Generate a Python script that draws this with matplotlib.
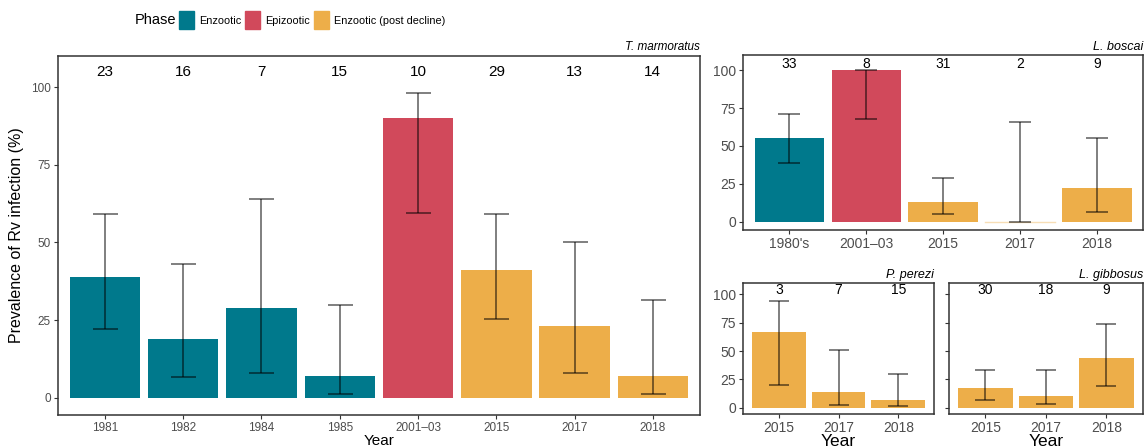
import numpy as np
import matplotlib.pyplot as plt
from matplotlib.patches import Patch

# colours for each phase
phase_colors = {'Enzootic': '#00798C', 'Epizootic': '#D1495B', 'Enzootic (post decline)': '#EDAE49'}

# T. marmoratus
tm_years = ['1981', '1982', '1984', '1985', '2001\u201303', '2015', '2017', '2018']
tm_prev = [39, 19, 29, 7, 90, 41, 23, 7]
tm_low = [22, 6.7, 8, 1.2, 59.5, 25.5, 8, 1.2]
tm_high = [59, 43, 64, 30, 98, 59, 50, 31.5]
tm_n = [23, 16, 7, 15, 10, 29, 13, 14]
tm_phase = ['Enzootic'] * 4 + ['Epizootic'] + ['Enzootic (post decline)'] * 3

# L. boscai
lb_years = ["1980's", '2001\u201303', '2015', '2017', '2018']
lb_prev = [55, 100, 13, 0, 22]
lb_low = [39, 67.5, 5, 0, 6]
lb_high = [71, 100, 29, 66, 55]
lb_n = [33, 8, 31, 2, 9]
lb_phase = ['Enzootic', 'Epizootic'] + ['Enzootic (post decline)'] * 3

# P. perezi
pp_years = ['2015', '2017', '2018']
pp_prev = [67, 14, 7]
pp_low = [20.5, 2.5, 1.5]
pp_high = [94, 51, 30]
pp_n = [3, 7, 15]
pp_phase = ['Enzootic (post decline)'] * 3

# L. gibbosus
lg_years = ['2015', '2017', '2018']
lg_prev = [17, 10.5, 44]
lg_low = [7, 3, 19]
lg_high = [33.5, 33, 73.5]
lg_n = [30, 18, 9]
lg_phase = ['Enzootic (post decline)'] * 3

plt.rcParams['font.family'] = ['Liberation Sans', 'DejaVu Sans']

fig = plt.figure(figsize=(11.44, 4.48), dpi=100)


def panel(ax, years, prev, low, high, n, phase, title, nsize, tsize, titlesize,
          ticklabels=True, count_y=105, cap=9):
    x = np.arange(len(years))
    cols = [phase_colors[p] for p in phase]
    ax.bar(x, prev, width=0.9, color=cols, zorder=2)
    # faint line for zero-height bars
    for xi, v, c in zip(x, prev, cols):
        if v == 0:
            ax.plot([xi - 0.45, xi + 0.45], [0, 0], color=c, lw=1, alpha=0.4, zorder=2)
    p = np.array(prev)
    ax.errorbar(x, p, yerr=[p - np.array(low), np.array(high) - p], fmt='none',
                ecolor='black', alpha=0.5, elinewidth=1.4, capsize=cap, capthick=1.4, zorder=3)
    for xi, ni in zip(x, n):
        ax.text(xi, count_y, str(ni), ha='center', va='center', fontsize=nsize, color='black')
    ax.set_xlim(-0.6, len(years) - 0.4)
    ax.set_ylim(-5.5, 110)
    ax.set_xticks(x)
    ax.set_xticklabels(years)
    ax.set_yticks([0, 25, 50, 75, 100])
    if not ticklabels:
        ax.set_yticklabels([])
    ax.tick_params(colors='#333333', labelcolor='#4d4d4d', labelsize=tsize, length=3, pad=2)
    for s in ax.spines.values():
        s.set_color('#333333')
        s.set_linewidth(1.1)
    ax.set_title(title, loc='right', fontsize=titlesize, style='italic', pad=4)


ax_main = fig.add_axes([0.0507, 0.074, 0.561, 0.801])
panel(ax_main, tm_years, tm_prev, tm_low, tm_high, tm_n, tm_phase, 'T. marmoratus', 11, 8.5, 8.5)
ax_main.set_ylabel('Prevalence of Rv infection (%)', fontsize=11.5, labelpad=5)
ax_main.set_xlabel('Year', fontsize=11, labelpad=0)

ax_lb = fig.add_axes([0.6495, 0.487, 0.3497, 0.39])
panel(ax_lb, lb_years, lb_prev, lb_low, lb_high, lb_n, lb_phase, 'L. boscai', 10, 10, 9,
      count_y=104, cap=8)

ax_pp = fig.add_axes([0.6495, 0.076, 0.167, 0.292])
panel(ax_pp, pp_years, pp_prev, pp_low, pp_high, pp_n, pp_phase, 'P. perezi', 10, 10, 9,
      count_y=104, cap=7)
ax_pp.set_xlabel('Year', fontsize=12.5, labelpad=-1)

ax_lg = fig.add_axes([0.8295, 0.076, 0.1695, 0.292])
panel(ax_lg, lg_years, lg_prev, lg_low, lg_high, lg_n, lg_phase, 'L. gibbosus', 10, 10, 9,
      ticklabels=False, count_y=104, cap=7)
ax_lg.set_xlabel('Year', fontsize=12.5, labelpad=-1)

# legend: title on the left, entries in one row
fig.text(0.1545, 0.955, 'Phase', fontsize=10.5, ha='right', va='center')
handles = [Patch(color=c, label=k) for k, c in phase_colors.items()]
fig.legend(handles=handles, loc='center left', bbox_to_anchor=(0.1565, 0.955), ncol=3,
           frameon=False, fontsize=7.8, handlelength=1.4,
           handleheight=2.2, columnspacing=0.35, handletextpad=0.45, borderaxespad=0, borderpad=0)

fig.savefig('out.png', dpi=100)
